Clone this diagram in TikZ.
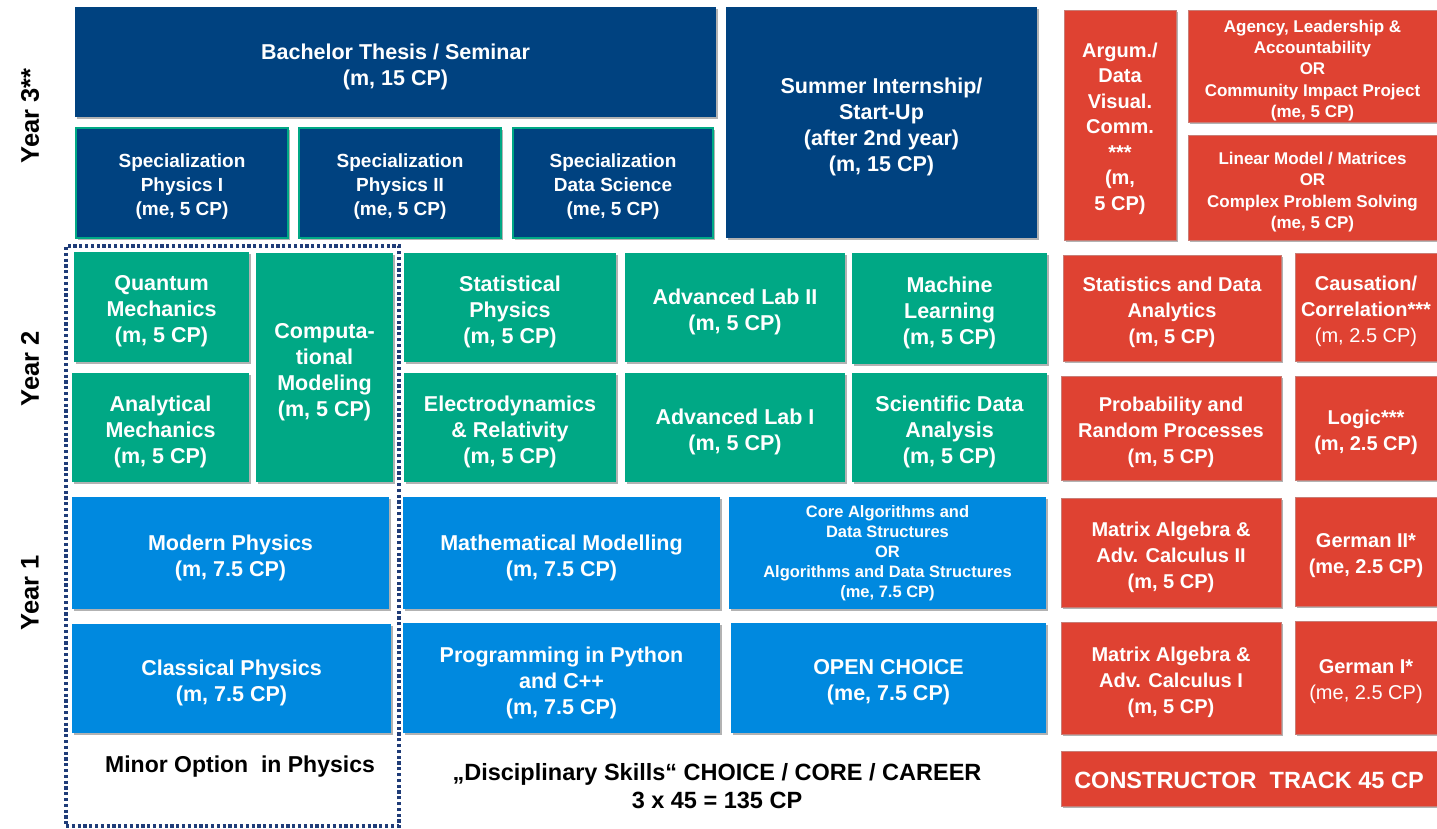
\documentclass[tikz,border=0pt]{standalone}
\usepackage{fontspec}
\setmainfont{Liberation Sans}
\usetikzlibrary{shadows}
\definecolor{dkblue}{RGB}{0,66,128}
\definecolor{grn}{RGB}{0,168,133}
\definecolor{ltblue}{RGB}{0,137,223}
\definecolor{red1}{RGB}{223,66,50}
\definecolor{redline}{RGB}{200,125,118}
\definecolor{frameblue}{RGB}{31,60,120}
\tikzset{
  box/.style={inner sep=0pt, outer sep=0pt,
    drop shadow={shadow xshift=1.5pt, shadow yshift=-1.8pt, opacity=0.3, fill=black}},
  yr3/.style={box, fill=dkblue},
  spec/.style={box, fill=dkblue, draw=grn, line width=1.6pt},
  gbox/.style={box, fill=grn},
  bbox/.style={box, fill=ltblue},
  rbox/.style={box, fill=red1, draw=redline, line width=0.8pt},
  txt/.style={inner sep=0pt, align=center, text=white, font=\bfseries\fontsize{21.5}{26}\selectfont},
  spectxt/.style={txt, font=\bfseries\fontsize{19}{24}\selectfont},
  rtxt/.style={txt, font=\bfseries\fontsize{20}{26}\selectfont},
  smalltxt/.style={txt, font=\bfseries\fontsize{17}{21.3}\selectfont},
  yearlabel/.style={rotate=90, font=\bfseries\fontsize{25.5}{28}\selectfont, text=black},
  caption/.style={align=center, text=black, font=\bfseries\fontsize{23}{28}\selectfont},
  minorframe/.style={draw=frameblue, line width=3.2pt, dash pattern=on 3.2pt off 2.6pt, inner sep=0pt}
}
% [#1 text shift] #2 box style, #3 text style, #4 name, #5 x1, #6 y1, #7 x2, #8 y2, #9 text
\newcommand\course[9][4.5]{%
  \pgfmathsetmacro\cw{#7-#5}\pgfmathsetmacro\chh{#8-#6}%
  \pgfmathsetmacro\cx{(#5+#7)/2}\pgfmathsetmacro\cy{(#6+#8)/2+#1}%
  \node[#2, minimum width=\cw pt, minimum height=\chh pt] (#4) at ({(#5+#7)/2},{(#6+#8)/2}) {};
  \node[#3] (#4-text) at (\cx,\cy) {#9};}
\begin{document}
\begin{tikzpicture}[x=1pt,y=-1pt]
\useasboundingbox[fill=white] (0,0) rectangle (1437,828);

% Year labels
\node[yearlabel] (y3) at (30,116) {Year 3**};
\node[yearlabel] (y2) at (30,369) {Year 2};
\node[yearlabel] (y1) at (30,593) {Year 1};

% Year 3
\course{yr3}{txt}{thesis}{75}{7}{716}{117}{Bachelor Thesis / Seminar\\(m, 15 CP)}
\course{yr3}{txt}{summer}{726}{7}{1037}{238}{Summer Internship/\\Start-Up\\(after 2nd year)\\(m, 15 CP)}
\course[3.5]{spec}{spectxt}{sp1}{76}{128}{288}{238}{Specialization\\Physics I\\(me, 5 CP)}
\course[3.5]{spec}{spectxt}{sp2}{299}{128}{501}{238}{Specialization\\Physics II\\(me, 5 CP)}
\course[3.5]{spec}{spectxt}{spd}{513}{128}{713}{238}{Specialization\\Data Science\\(me, 5 CP)}

% Year 2 green
\course{gbox}{txt}{qm}{74}{252}{249}{362}{Quantum\\Mechanics\\(m, 5 CP)}
\course{gbox}{txt}{am}{72}{373}{249}{482}{Analytical\\Mechanics\\(m, 5 CP)}
\course{gbox}{txt}{cm}{256}{253}{393}{482}{Computa-\\tional\\Modeling\\(m, 5 CP)}
\course{gbox}{txt}{sp}{404}{253}{616}{362}{Statistical\\Physics\\(m, 5 CP)}
\course{gbox}{txt}{al2}{625}{253}{845}{362}{Advanced Lab II\\(m, 5 CP)}
\course{gbox}{txt}{ml}{852}{253}{1047}{364}{Machine\\Learning\\(m, 5 CP)}
\course{gbox}{txt}{ed}{404}{373}{616}{482}{Electrodynamics\\\& Relativity\\(m, 5 CP)}
\course{gbox}{txt}{al1}{625}{373}{845}{482}{Advanced Lab I\\(m, 5 CP)}
\course{gbox}{txt}{sda}{852}{373}{1047}{482}{Scientific Data\\Analysis\\(m, 5 CP)}

% Year 1 blue
\course{bbox}{txt}{mp}{72}{497}{389}{609}{Modern Physics\\(m, 7.5 CP)}
\course{bbox}{txt}{mm}{403}{497}{720}{609}{Mathematical Modelling\\(m, 7.5 CP)}
\course[0.5]{bbox}{txt, font=\bfseries\fontsize{16.5}{20}\selectfont}{cad}{729}{497}{1046}{609}{Core Algorithms and\\Data Structures\\OR\\Algorithms and Data Structures\\(me, 7.5 CP)}
\course{bbox}{txt}{cp}{72}{624}{391}{733}{Classical Physics\\(m, 7.5 CP)}
\course{bbox}{txt}{pp}{403}{623}{720}{733}{Programming in Python\\and C++\\(m, 7.5 CP)}
\course{bbox}{txt}{oc}{731}{623}{1046}{733}{OPEN CHOICE\\(me, 7.5 CP)}

% Constructor track (red)
\course[3.5]{rbox}{txt, font=\bfseries\fontsize{20}{25.5}\selectfont}{arg}{1064}{10}{1176}{240}{Argum./\\Data\\Visual.\\Comm.\\{}***\\(m,\\5 CP)}
\course{rbox}{smalltxt}{agency}{1188}{10}{1437}{122}{Agency, Leadership \&\\Accountability\\OR\\Community Impact Project\\(me, 5 CP)}
\course{rbox}{smalltxt}{linear}{1188}{135}{1437}{240}{Linear Model / Matrices\\OR\\Complex Problem Solving\\(me, 5 CP)}
\course{rbox}{rtxt}{stat}{1063}{255}{1281}{361}{Statistics and Data\\Analytics\\(m, 5 CP)}
\course{rbox}{rtxt}{caus}{1295}{253}{1437}{361}{Causation/\\Correlation***\\{\mdseries(m, 2.5 CP)}}
\course{rbox}{rtxt}{prob}{1061}{376}{1281}{480}{Probability and\\Random Processes\\(m, 5 CP)}
\course{rbox}{rtxt}{logic}{1295}{376}{1437}{480}{Logic***\\(m, 2.5 CP)}
\course{rbox}{rtxt}{mat2}{1061}{498}{1281}{607}{Matrix Algebra \&\\Adv. Calculus II\\(m, 5 CP)}
\course{rbox}{rtxt}{ger2}{1295}{497}{1437}{606}{German II*\\(me, 2.5 CP)}
\course{rbox}{rtxt}{mat1}{1061}{622}{1281}{734}{Matrix Algebra \&\\Adv. Calculus I\\(m, 5 CP)}
\course{rbox}{rtxt}{ger1}{1295}{621}{1437}{734}{German I*\\{\mdseries(me, 2.5 CP)}}
\course[2]{rbox}{txt, font=\bfseries\fontsize{23.5}{26}\selectfont}{ct}{1061}{751}{1437}{806}{CONSTRUCTOR\ \ TRACK 45 CP}

% Minor option frame
\node[minorframe, minimum width=333pt, minimum height=580pt] (minor) at (232.5,536) {};

% Captions
\node[caption] (minorcap) at (240,767) {Minor Option\ \ in Physics};
\node[caption, font=\bfseries\fontsize{23.5}{28}\selectfont] (discap) at (717,786) {„Disciplinary Skills“ CHOICE / CORE / CAREER\\3 x 45 = 135 CP};
\end{tikzpicture}
\end{document}
